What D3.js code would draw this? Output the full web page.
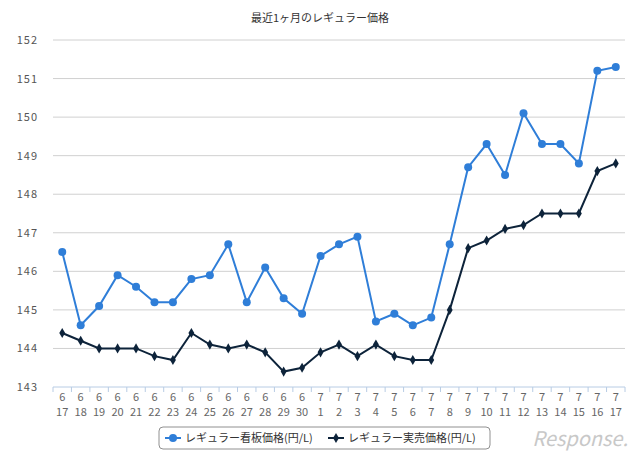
<!DOCTYPE html><html><head><meta charset="utf-8"><script src="https://cdn.jsdelivr.net/npm/d3@7"></script>
<style>body{margin:0;background:#fff}text{font-family:"Noto Sans CJK JP","Noto Sans",sans-serif}</style></head><body><svg id="c" width="640" height="462"></svg><script>
const dates=["6/17","6/18","6/19","6/20","6/21","6/22","6/23","6/24","6/25","6/26","6/27","6/28","6/29","6/30","7/1","7/2","7/3","7/4","7/5","7/6","7/7","7/8","7/9","7/10","7/11","7/12","7/13","7/14","7/15","7/16","7/17"];
const signPrice=[146.5,144.6,145.1,145.9,145.6,145.2,145.2,145.8,145.9,146.7,145.2,146.1,145.3,144.9,146.4,146.7,146.9,144.7,144.9,144.6,144.8,146.7,148.7,149.3,148.5,150.1,149.3,149.3,148.8,151.2,151.3];
const salePrice=[144.4,144.2,144.0,144.0,144.0,143.8,143.7,144.4,144.1,144.0,144.1,143.9,143.4,143.5,143.9,144.1,143.8,144.1,143.8,143.7,143.7,145.0,146.6,146.8,147.1,147.2,147.5,147.5,147.5,148.6,148.8];
const yTicks=[143,144,145,146,147,148,149,150,151,152];
const svg=d3.select("#c");
const x=d3.scaleBand().domain(dates).range([53,625]);
const y=d3.scaleLinear().domain([143,152]).range([387,40]);
svg.append("text").attr("x",320).attr("y",22).attr("text-anchor","middle").attr("font-size",11).attr("fill","#333").text("最近1ヶ月のレギュラー価格");
svg.append("g").selectAll("line").data(yTicks.slice(1)).join("line").attr("x1",53).attr("x2",625).attr("y1",d=>y(d)).attr("y2",d=>y(d)).attr("stroke","#d0d0d0").attr("stroke-width",1);
svg.append("g").selectAll("text").data(yTicks).join("text").attr("x",38).attr("y",d=>y(d)+4).attr("text-anchor","end").attr("font-size",11).attr("letter-spacing","1px").attr("fill","#555").text(d=>d);
svg.append("line").attr("x1",53).attr("x2",625).attr("y1",387).attr("y2",387).attr("stroke","#b8cce4");
svg.append("g").selectAll("line").data(dates.concat(["end"])).join("line").attr("x1",(d,i)=>53+i*x.step()).attr("x2",(d,i)=>53+i*x.step()).attr("y1",387).attr("y2",392).attr("stroke","#b8cce4");
const lg0=svg.append("g").attr("font-family","Liberation Sans, Arial, sans-serif");
lg0.selectAll("text.m").data(dates).join("text").attr("class","m").attr("text-anchor","middle").attr("font-size",11).attr("font-family","Liberation Sans, Arial, sans-serif").attr("fill","#666").attr("x",d=>x(d)+x.bandwidth()/2).attr("y",401).text(d=>d.split("/")[0]);
lg0.selectAll("text.d").data(dates).join("text").attr("class","d").attr("text-anchor","middle").attr("font-size",11).attr("font-family","Liberation Sans, Arial, sans-serif").attr("fill","#666").attr("x",d=>x(d)+x.bandwidth()/2).attr("y",416).text(d=>d.split("/")[1]);
const cx=(d,i)=>x(dates[i])+x.bandwidth()/2;
const line=d3.line().x((d,i)=>cx(d,i)).y(d=>y(d));
svg.append("path").datum(signPrice).attr("d",line).attr("fill","none").attr("stroke","#2f7ed8").attr("stroke-width",2);
svg.append("g").selectAll("circle").data(signPrice).join("circle").attr("cx",cx).attr("cy",d=>y(d)).attr("r",4).attr("fill","#2f7ed8");
svg.append("path").datum(salePrice).attr("d",line).attr("fill","none").attr("stroke","#0d233a").attr("stroke-width",2);
const dia=d3.symbol().type(d3.symbolDiamond).size(30);
svg.append("g").selectAll("path").data(salePrice).join("path").attr("d",dia).attr("transform",(d,i)=>`translate(${cx(d,i)},${y(d)})`).attr("fill","#0d233a");
const lg=svg.append("g");
lg.append("rect").attr("x",159).attr("y",427).attr("width",331).attr("height",22).attr("rx",4).attr("fill","#fff").attr("stroke","#909090");
lg.append("line").attr("x1",165).attr("x2",181).attr("y1",438).attr("y2",438).attr("stroke","#2f7ed8").attr("stroke-width",2);
lg.append("circle").attr("cx",173).attr("cy",438).attr("r",4).attr("fill","#2f7ed8");
lg.append("text").attr("x",185).attr("y",442).attr("font-size",11).attr("fill","#333").text("レギュラー看板価格(円/L)");
lg.append("line").attr("x1",328).attr("x2",344).attr("y1",438).attr("y2",438).attr("stroke","#0d233a").attr("stroke-width",2);
lg.append("path").attr("d",dia).attr("transform","translate(336,438)").attr("fill","#0d233a");
lg.append("text").attr("x",348).attr("y",442).attr("font-size",11).attr("fill","#333").text("レギュラー実売価格(円/L)");
svg.append("text").attr("x",628).attr("y",446).attr("text-anchor","end").attr("font-size",20).attr("font-style","italic").attr("fill","#c8c8c8").attr("font-family","Liberation Sans, sans-serif").text("Response.");
</script></body></html>
